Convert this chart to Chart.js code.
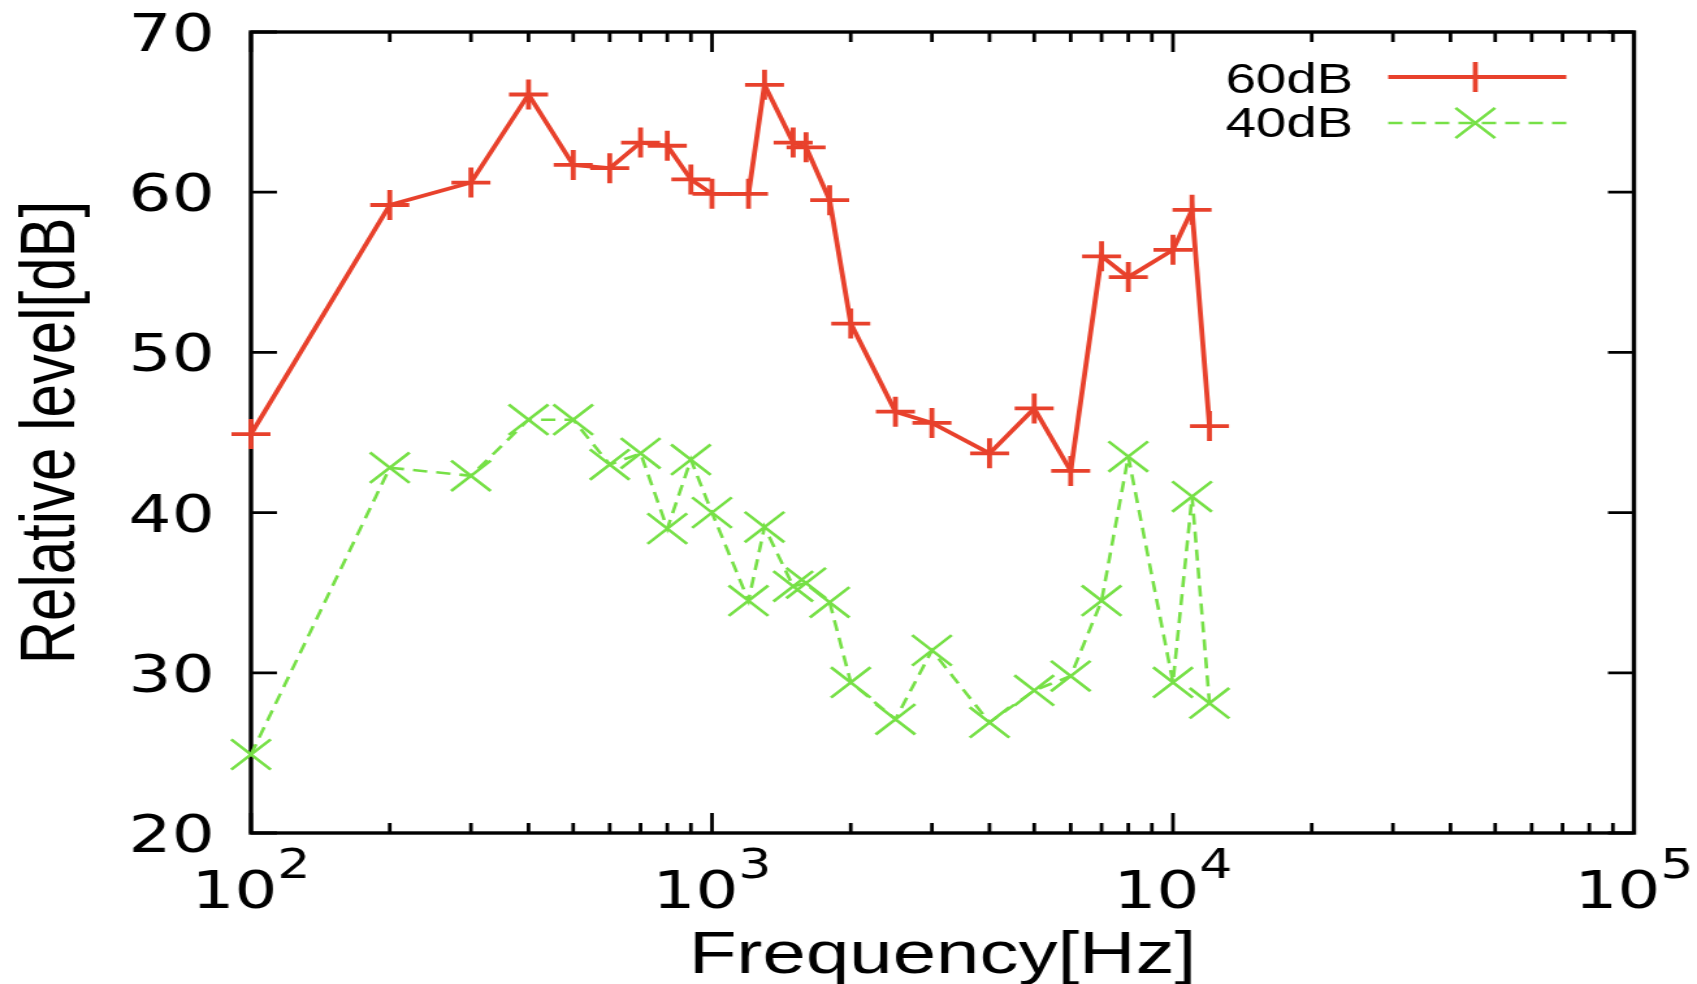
<!DOCTYPE html>
<html>
<head>
<meta charset="utf-8">
<title>Relative level vs frequency</title>
<script src="https://cdn.jsdelivr.net/npm/chart.js@4.4.1/dist/chart.umd.min.js"></script>
<style>
    html, body { margin: 0; padding: 0; background: #fff; overflow: hidden; }
    /* the original figure is stretched horizontally, so draw narrow and stretch */
    #wrap { width: 1305px; height: 984px; transform: scaleX(1.3004); transform-origin: 0 0; }
</style>
</head>
<body>
<div id="wrap"><canvas id="levelChart"></canvas></div>
<script>
const freqHz = [100, 200, 300, 400, 500, 600, 700, 800, 900, 1000, 1200, 1300, 1500, 1600,
    1800, 2000, 2500, 3000, 4000, 5000, 6000, 7000, 8000, 10000, 11000, 12000];
const level60 = [44.9, 59.2, 60.6, 66.1, 61.7, 61.5, 63.1, 62.9, 60.8, 59.9, 59.9, 66.7, 63.1, 62.8,
    59.5, 51.8, 46.3, 45.6, 43.7, 46.5, 42.6, 56.0, 54.7, 56.4, 58.9, 45.4];
const level40 = [24.9, 42.8, 42.3, 45.8, 45.8, 43.0, 43.7, 39.0, 43.3, 40.0, 34.5, 39.1, 35.4, 35.6,
    34.4, 29.4, 27.1, 31.4, 26.9, 28.9, 29.8, 34.5, 43.5, 29.4, 41.0, 28.1];
const seriesNames = ['60dB', '40dB'];
const yTicks = [20, 30, 40, 50, 60, 70];
const xDecades = [2, 3, 4, 5];

const RED = '#e8412c';
const GREEN = '#76e046';

function toPoints(values) {
    return freqHz.map((f, i) => ({ x: f, y: values[i] }));
}

function drawMarker(ctx, style, cx, cy) {
    ctx.beginPath();
    if (style === 'cross') {
        ctx.moveTo(cx - 15, cy); ctx.lineTo(cx + 15, cy);
        ctx.moveTo(cx, cy - 15); ctx.lineTo(cx, cy + 15);
    } else {
        const d = 15.2;
        ctx.moveTo(cx - d, cy - d); ctx.lineTo(cx + d, cy + d);
        ctx.moveTo(cx - d, cy + d); ctx.lineTo(cx + d, cy - d);
    }
    ctx.stroke();
}

// frame with inward ticks on all four sides (gnuplot style)
const framePlugin = {
    id: 'framePlugin',
    beforeDatasetsDraw(chart) {
        const { ctx, chartArea: a, scales: { x, y } } = chart;
        ctx.save();
        ctx.strokeStyle = '#000';
        ctx.lineWidth = 3.4;
        ctx.strokeRect(a.left, a.top, a.right - a.left, a.bottom - a.top);

        ctx.lineWidth = 2.8;
        ctx.beginPath();
        yTicks.forEach(v => {
            const py = y.getPixelForValue(v);
            ctx.moveTo(a.left, py); ctx.lineTo(a.left + 20, py);
            ctx.moveTo(a.right, py); ctx.lineTo(a.right - 20, py);
        });
        xDecades.forEach((e, i) => {
            const base = Math.pow(10, e);
            const px = x.getPixelForValue(base);
            ctx.moveTo(px, a.bottom); ctx.lineTo(px, a.bottom - 20);
            ctx.moveTo(px, a.top); ctx.lineTo(px, a.top + 20);
            if (i < xDecades.length - 1) {
                for (let m = 2; m <= 9; m++) {
                    const mx = x.getPixelForValue(base * m);
                    ctx.moveTo(mx, a.bottom); ctx.lineTo(mx, a.bottom - 10);
                    ctx.moveTo(mx, a.top); ctx.lineTo(mx, a.top + 10);
                }
            }
        });
        ctx.stroke();
        ctx.restore();
    },
    afterDraw(chart) {
        const { ctx, chartArea: a, scales: { x, y } } = chart;
        ctx.save();
        ctx.fillStyle = '#000';

        // y tick labels
        ctx.font = '52px "DejaVu Sans"';
        ctx.textAlign = 'right';
        ctx.textBaseline = 'alphabetic';
        yTicks.forEach(v => {
            ctx.fillText(String(v), a.left - 28, y.getPixelForValue(v) + 19);
        });

        // x tick labels 10^n
        ctx.textAlign = 'left';
        xDecades.forEach(e => {
            const px = x.getPixelForValue(Math.pow(10, e));
            ctx.font = '52px "DejaVu Sans"';
            const wBase = ctx.measureText('10').width;
            ctx.font = '40px "DejaVu Sans"';
            const wExp = ctx.measureText(String(e)).width;
            const start = px - (wBase + wExp) / 2;
            ctx.font = '52px "DejaVu Sans"';
            ctx.fillText('10', start, a.bottom + 75);
            ctx.font = '40px "DejaVu Sans"';
            ctx.fillText(String(e), start + wBase, a.bottom + 45);
        });

        // axis titles
        ctx.font = '60px "Liberation Sans"';
        ctx.textAlign = 'center';
        ctx.fillText('Frequency[Hz]', (a.left + a.right) / 2, a.bottom + 140);
        ctx.save();
        ctx.translate(57, (a.top + a.bottom) / 2);
        ctx.rotate(-Math.PI / 2);
        ctx.fillText('Relative level[dB]', 0, 0);
        ctx.restore();

        // key
        const rows = [
            { name: seriesNames[0], color: RED, width: 3.8, dash: [], marker: 'cross', base: 61, line: 45 },
            { name: seriesNames[1], color: GREEN, width: 2.6, dash: [11, 7], marker: 'crossRot', base: 105, line: 91 }
        ];
        ctx.font = '42px "Liberation Sans"';
        ctx.textAlign = 'right';
        rows.forEach(r => {
            ctx.fillStyle = '#000';
            ctx.fillText(r.name, a.right - 216, a.top + r.base);
            const ly = a.top + r.line;
            ctx.strokeStyle = r.color;
            ctx.lineWidth = r.width;
            ctx.setLineDash(r.dash);
            ctx.beginPath();
            ctx.moveTo(a.right - 189, ly);
            ctx.lineTo(a.right - 52, ly);
            ctx.stroke();
            ctx.setLineDash([]);
            drawMarker(ctx, r.marker, a.right - 122, ly);
        });
        ctx.restore();
    }
};

function initChart() {
    const ctx = document.getElementById('levelChart').getContext('2d');

    new Chart(ctx, {
        type: 'scatter',
        data: {
            datasets: [{
                label: seriesNames[0],
                data: toPoints(level60),
                showLine: true,
                borderColor: RED,
                borderWidth: 3.8,
                pointStyle: 'cross',
                pointRadius: 15,
                pointBorderWidth: 3.8,
                pointBorderColor: RED,
                pointBackgroundColor: RED,
                clip: false
            }, {
                label: seriesNames[1],
                data: toPoints(level40),
                showLine: true,
                borderColor: GREEN,
                borderWidth: 2.6,
                borderDash: [11, 7],
                pointStyle: 'crossRot',
                pointRadius: 21.5,
                pointBorderWidth: 2.6,
                pointBorderColor: GREEN,
                pointBackgroundColor: GREEN,
                clip: false
            }]
        },
        options: {
            responsive: true,
            maintainAspectRatio: false,
            animation: false,
            layout: { padding: { left: 193, right: 48.5, top: 32, bottom: 151 } },
            plugins: {
                legend: { display: false },
                tooltip: { enabled: false }
            },
            scales: {
                x: { type: 'logarithmic', min: 100, max: 100000, display: false },
                y: { type: 'linear', min: 20, max: 70, display: false }
            }
        },
        plugins: [framePlugin]
    });
}

document.addEventListener('DOMContentLoaded', initChart);
</script>
</body>
</html>
